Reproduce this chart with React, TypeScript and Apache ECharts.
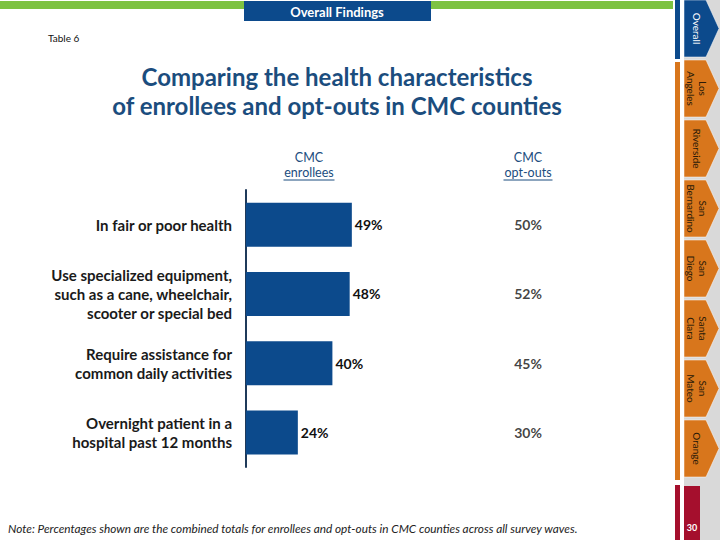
import React, { useEffect, useRef } from "react";
import * as echarts from "echarts";

const categories = [
  "In fair or poor health",
  "Use specialized equipment,\nsuch as a cane, wheelchair,\nscooter or special bed",
  "Require assistance for\ncommon daily activities",
  "Overnight patient in a\nhospital past 12 months",
];
const enrollees = [49, 48, 40, 24];
const optouts = [50, 52, 45, 30];
const tabs = ["Overall", "Los\nAngeles", "Riverside", "San\nBernardino", "San\nDiego", "Santa\nClara", "San\nMateo", "Orange"];
const titleLines = ["Comparing the health characteristics", "of enrollees and opt-outs in CMC counties"];
const pageNumber = "30";

const FONT = "Lato, 'Open Sans', sans-serif";
const NAVY = "#0c4a8c";
const TITLE = "#1b4d7e";
const ORANGE = "#d8761c";
const RED = "#a50f2d";
const GREEN = "#7dc242";

export default function App() {
  const ref = useRef<HTMLDivElement>(null);
  useEffect(() => {
    if (!ref.current) return;
    const chart = echarts.init(ref.current, null, { renderer: "svg" });

    const graphics: any[] = [];
    graphics.push({ type: "rect", shape: { x: 0, y: 1, width: 673, height: 8 }, style: { fill: GREEN } });
    graphics.push({ type: "rect", shape: { x: 244, y: 1, width: 187, height: 20 }, style: { fill: NAVY } });
    graphics.push({
      type: "text", x: 337, y: 12,
      style: { text: "Overall Findings", fill: "#fff", font: `bold 13px ${FONT}`, textAlign: "center", textVerticalAlign: "middle" },
    });
    // sidebar
    graphics.push({ type: "rect", shape: { x: 684, y: 0, width: 36, height: 540 }, style: { fill: "#d9d9d9" } });
    graphics.push({ type: "rect", shape: { x: 675, y: 0, width: 5, height: 59 }, style: { fill: NAVY } });
    graphics.push({ type: "rect", shape: { x: 675, y: 62, width: 5, height: 418 }, style: { fill: ORANGE } });
    graphics.push({ type: "rect", shape: { x: 675, y: 485, width: 5, height: 55 }, style: { fill: RED } });
    tabs.forEach((t, i) => {
      const y0 = i * 60;
      const h = 57;
      graphics.push({
        type: "polygon",
        shape: { points: [[684, y0], [706, y0], [719, y0 + h / 2], [706, y0 + h], [684, y0 + h]] },
        style: { fill: i === 0 ? NAVY : ORANGE, stroke: "#fff", lineWidth: 0.5 },
      });
      graphics.push({
        type: "text", x: 697, y: y0 + h / 2, rotation: -Math.PI / 2,
        style: {
          text: t, fill: i === 0 ? "#fff" : "#2a1a08", font: `10px ${FONT}`,
          textAlign: "center", textVerticalAlign: "middle", lineHeight: 12,
        },
      });
    });
    graphics.push({ type: "rect", shape: { x: 684, y: 486, width: 16, height: 54 }, style: { fill: RED } });
    graphics.push({
      type: "text", x: 692, y: 527,
      style: { text: pageNumber, fill: "#fff", font: `bold 9px ${FONT}`, textAlign: "center", textVerticalAlign: "middle" },
    });
    graphics.push({
      type: "text", x: 48, y: 38,
      style: { text: "Table 6", fill: "#111", font: `10px ${FONT}`, textVerticalAlign: "middle" },
    });
    titleLines.forEach((line, i) => {
      graphics.push({
        type: "text", x: 337, y: 76.5 + i * 29,
        style: { text: line, fill: TITLE, font: `bold 24px ${FONT}`, textAlign: "center", textVerticalAlign: "middle" },
      });
    });
    const header = (cx: number, l2: string, w: number) => {
      graphics.push({ type: "text", x: cx, y: 157.5, style: { text: "CMC", fill: TITLE, font: `12.5px ${FONT}`, textAlign: "center", textVerticalAlign: "middle" } });
      graphics.push({ type: "text", x: cx, y: 172.5, style: { text: l2, fill: TITLE, font: `12.5px ${FONT}`, textAlign: "center", textVerticalAlign: "middle" } });
      graphics.push({ type: "line", shape: { x1: cx - w / 2, y1: 180, x2: cx + w / 2, y2: 180 }, style: { stroke: TITLE, lineWidth: 1 } });
    };
    header(309, "enrollees", 51);
    header(528, "opt-outs", 49);
    graphics.push({
      type: "text", x: 8, y: 528,
      style: {
        text: "Note: Percentages shown are the combined totals for enrollees and opt-outs in CMC counties across all survey waves.",
        fill: "#222", font: `italic 11.8px ${FONT}`, textVerticalAlign: "middle",
      },
    });

    chart.setOption({
      animation: false,
      textStyle: { fontFamily: FONT },
      grid: [
        { left: 246, top: 190, width: 216, height: 277 },
        { left: 478, top: 190, width: 100, height: 277 },
      ],
      xAxis: [
        { type: "value", gridIndex: 0, min: 0, max: 100, show: false },
        { type: "category", gridIndex: 1, data: ["opt"], show: false },
      ],
      yAxis: [
        {
          type: "category", gridIndex: 0, data: categories, inverse: true,
          axisLine: { show: true, lineStyle: { color: "#1f3a5a", width: 2 } },
          axisTick: { show: false },
          axisLabel: { margin: 14, color: "#1a1a1a", fontWeight: "bold", fontSize: 15, lineHeight: 19, align: "right", fontFamily: FONT },
        },
        { type: "category", gridIndex: 1, data: categories, inverse: true, show: false },
      ],
      series: [
        {
          type: "bar", xAxisIndex: 0, yAxisIndex: 0, data: enrollees, barWidth: 44,
          itemStyle: { color: NAVY },
          label: { show: true, position: "right", distance: 3, formatter: "{c}%", color: "#111", fontWeight: "bold", fontSize: 14, fontFamily: FONT },
        },
        {
          type: "scatter", xAxisIndex: 1, yAxisIndex: 1, symbolSize: 0,
          data: optouts.map((v, i) => ["opt", categories[i], v]),
          label: {
            show: true, position: "inside", color: "#111", fontWeight: "bold", fontSize: 14, fontFamily: FONT,
            formatter: (p: any) => `${p.value[2]}%`,
          },
        },
      ],
      graphic: graphics,
    });
    return () => chart.dispose();
  }, []);
  return <div ref={ref} style={{ position: "fixed", left: 0, top: 0, width: 720, height: 540, background: "#fff" }} />;
}
